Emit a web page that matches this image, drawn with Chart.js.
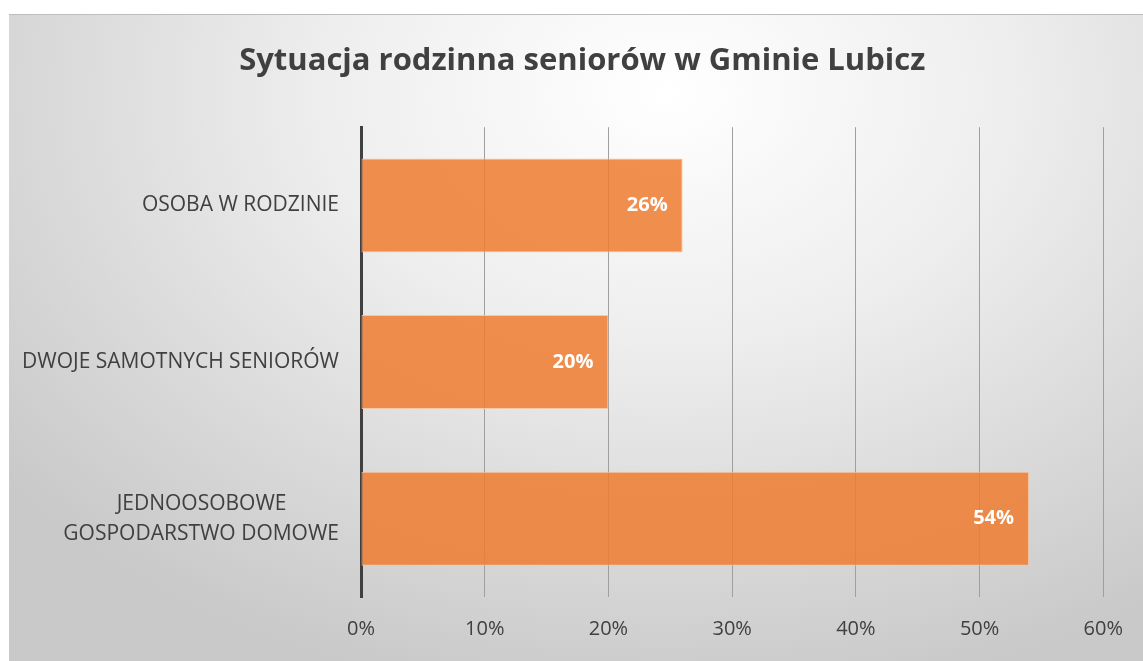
<!DOCTYPE html>
<html>
<head>
<meta charset="utf-8">
<script src="https://cdn.jsdelivr.net/npm/chart.js@4"></script>
<style>
  html, body { margin: 0; padding: 0; background: #fff; }
  #box {
    position: absolute; left: 9px; top: 14px; width: 1134px; height: 647px;
    border-top: 1px solid #bdbdbd;
    box-sizing: border-box;
    background: radial-gradient(ellipse 75% 95% at 58% 12%, #ffffff 0%, #eeeeee 40%, #d8d8d8 75%, #c9c9c9 100%);
  }
  canvas { display: block; }
</style>
</head>
<body>
<div id="box"><canvas id="chart" width="1134" height="646"></canvas></div>
<script>
const categories = [
  ["OSOBA W RODZINIE"],
  ["DWOJE SAMOTNYCH SENIORÓW"],
  ["JEDNOOSOBOWE\u2002\u2002\u2002\u2002\u2002", "GOSPODARSTWO DOMOWE"]
];
const shares = [26, 20, 54];
const xTicks = [0, 10, 20, 30, 40, 50, 60];
const chartTitle = "Sytuacja rodzinna seniorów w Gminie Lubicz";

const FONT = "'Open Sans', sans-serif";

// white % labels at the end of each bar
const barLabels = {
  id: "barLabels",
  afterDatasetsDraw(chart) {
    const ctx = chart.ctx;
    const meta = chart.getDatasetMeta(0);
    ctx.save();
    ctx.font = "bold 20px " + FONT;
    ctx.fillStyle = "#ffffff";
    ctx.textAlign = "right";
    ctx.textBaseline = "middle";
    meta.data.forEach((bar, i) => {
      ctx.fillText(shares[i] + "%", bar.x - 15, bar.y);
    });
    ctx.restore();
  }
};

new Chart(document.getElementById("chart"), {
  type: "bar",
  data: {
    labels: categories,
    datasets: [{
      data: shares,
      backgroundColor: "rgba(237,125,49,0.86)",
      borderColor: "rgba(248,196,160,0.9)",
      borderWidth: 1,
      borderSkipped: false,
      categoryPercentage: 0.6,
      barPercentage: 1
    }]
  },
  options: {
    indexAxis: "y",
    responsive: false,
    animation: false,
    layout: { padding: { left: 0, right: 34, top: 0, bottom: 0 } },
    plugins: {
      legend: { display: false },
      tooltip: { enabled: false },
      title: {
        display: true,
        // leading spaces nudge the centred title a bit to the right
        text: "\u2002\u2002\u2002" + chartTitle,
        color: "#404040",
        font: { family: FONT, size: 31, weight: "bold" },
        padding: { top: 28, bottom: 47 }
      }
    },
    scales: {
      x: {
        min: 0,
        max: 60,
        afterBuildTicks(scale) { scale.ticks = xTicks.map(v => ({ value: v })); },
        ticks: {
          color: "#404040",
          padding: 20,
          font: { family: FONT, size: 20 },
          callback: v => v + "%"
        },
        grid: { color: "#9f9f9f", lineWidth: 1, drawTicks: false },
        border: { display: false }
      },
      y: {
        afterFit(scale) { scale.width = 352; },
        ticks: {
          color: "#404040",
          padding: 22,
          font: { family: FONT, size: 21, lineHeight: 1.43 }
        },
        grid: { display: false, drawTicks: false },
        border: { display: true, color: "#404040", width: 3 }
      }
    }
  },
  plugins: [barLabels]
});
</script>
</body>
</html>
